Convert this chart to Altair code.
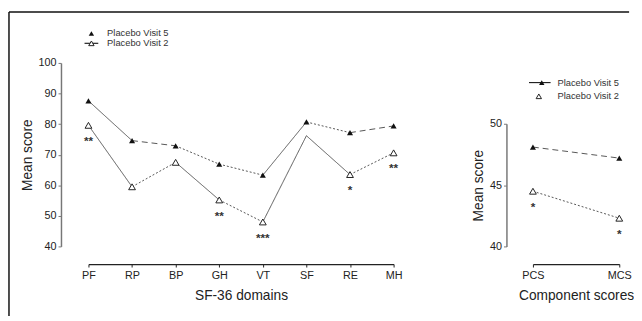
import altair as alt
import pandas as pd

# ---------------- data ----------------
domains = ["PF", "RP", "BP", "GH", "VT", "SF", "RE", "MH"]
visit5 = [87.6, 74.6, 72.9, 66.9, 63.3, 80.7, 77.2, 79.4]
visit2 = [79.6, 59.5, 67.5, 55.2, 48.0, 76.2, 63.5, 70.6]
visit2_marker = [True, True, True, True, True, False, True, True]
visit5_styles = ["solid", "dash", "dot", "dot", "solid", "dot", "dash"]
visit2_styles = ["solid", "dot", "solid", "dot", "solid", "solid", "dot"]
visit2_stars = ["**", "", "", "**", "***", "", "*", "**"]

components = ["PCS", "MCS"]
comp5 = [48.1, 47.2]
comp2 = [44.5, 42.3]
comp5_styles = ["dash"]
comp2_styles = ["dot"]
comp2_stars = ["*", "*"]

legend_labels = ["Placebo Visit 5", "Placebo Visit 2"]

FONT = "Liberation Sans"
LINE = "#555555"
TXT = "#222222"


def segments(cats, vals, styles):
    rows = []
    for i, st in enumerate(styles):
        rows.append({"x": cats[i], "x2": cats[i + 1], "y": vals[i], "y2": vals[i + 1], "style": st})
    return pd.DataFrame(rows)


dash_scale = alt.Scale(domain=["solid", "dash", "dot"], range=[[1, 0], [6, 4], [2, 2]])


def panel(cats, v5, v2, s5, s2, stars, marker2, ydom, yrange, yvals, yoffset, xtitle):
    xs = alt.X("x:N", scale=alt.Scale(type="point", domain=cats, padding=0), sort=cats,
               axis=alt.Axis(title=xtitle, offset=18, labelAngle=0, tickSize=3,
                             domainColor="#222", domainWidth=1.2, tickColor="#222",
                             labelFont=FONT, labelFontSize=11, labelColor=TXT, labelPadding=3,
                             titleFont=FONT, titleFontSize=14, titleFontWeight="normal",
                             titleColor=TXT, titlePadding=8, grid=False))
    ys = alt.Y("y:Q", scale=alt.Scale(domain=ydom, range=yrange, nice=False, zero=False),
               axis=alt.Axis(title="Mean score", offset=yoffset, values=yvals,
                             tickSize=3, domainColor="#777", domainWidth=1.5, tickColor="#777",
                             labelFont=FONT, labelFontSize=11, labelColor=TXT, labelPadding=2,
                             titleFont=FONT, titleFontSize=14, titleFontWeight="normal",
                             titleColor=TXT, titlePadding=4, grid=False))
    seg = pd.concat([segments(cats, v5, s5), segments(cats, v2, s2)], ignore_index=True)
    lines = alt.Chart(seg).mark_rule(color=LINE, strokeWidth=1).encode(
        x=xs, x2="x2:N", y=ys, y2="y2:Q",
        strokeDash=alt.StrokeDash("style:N", scale=dash_scale, legend=None))
    p5 = pd.DataFrame({"x": cats, "y": v5})
    p2 = pd.DataFrame({"x": cats, "y": v2, "m": marker2, "s": stars})
    pts5 = alt.Chart(p5).mark_point(shape="triangle-up", filled=True, color="#111",
                                     size=38, opacity=1).encode(x=xs, y=ys)
    pts2 = alt.Chart(p2).transform_filter("datum.m").mark_point(
        shape="triangle-up", fill="white", stroke="#222", strokeWidth=1, size=48, opacity=1
    ).encode(x=xs, y=ys)
    st = alt.Chart(p2).transform_filter("datum.s != ''").mark_text(
        font=FONT, fontSize=12, fontWeight="bold", color="#333", dy=16, baseline="middle"
    ).encode(x=xs, y=ys, text="s:N")
    return lines + pts5 + pts2 + st


one = pd.DataFrame({"a": [0]})

left = panel(domains, visit5, visit2, visit5_styles, visit2_styles, visit2_stars, visit2_marker,
             [40, 100], [187, 0], [40, 50, 60, 70, 80, 90, 100], 28, "SF-36 domains")

# left legend
leg_txt = dict(font=FONT, fontSize=9.5, color="#333", align="left", baseline="middle")
lleg = (
    alt.Chart(one).mark_point(shape="triangle-up", filled=True, color="#111", size=30, opacity=1)
    .encode(x=alt.value(3), y=alt.value(-30))
    + alt.Chart(one).mark_text(**leg_txt).encode(x=alt.value(19), y=alt.value(-30), text=alt.value(legend_labels[0]))
    + alt.Chart(one).mark_rule(color="#222", strokeWidth=1.2).encode(x=alt.value(-4), x2=alt.value(10), y=alt.value(-20))
    + alt.Chart(one).mark_point(shape="triangle-up", fill="white", stroke="#222", strokeWidth=1, size=30, opacity=1)
    .encode(x=alt.value(3), y=alt.value(-20))
    + alt.Chart(one).mark_text(**leg_txt).encode(x=alt.value(19), y=alt.value(-20), text=alt.value(legend_labels[1]))
)

frame = (
    alt.Chart(one).mark_rule(color="#111", strokeWidth=1.5).encode(x=alt.value(-81), y=alt.value(-52), y2=alt.value(258))
    + alt.Chart(one).mark_rule(color="#111", strokeWidth=1.5).encode(x=alt.value(-81), x2=alt.value(551), y=alt.value(-52))
)

left_chart = alt.layer(frame, left, lleg).properties(width=311, height=187)

right = panel(components, comp5, comp2, comp5_styles, comp2_styles, comp2_stars, [True, True],
              [40, 50], [187, 62], [40, 45, 50], 27, "Component scores")

rleg = (
    alt.Chart(one).mark_rule(color="#222", strokeWidth=1.2).encode(x=alt.value(-4), x2=alt.value(18), y=alt.value(20))
    + alt.Chart(one).mark_point(shape="triangle-up", filled=True, color="#111", size=30, opacity=1)
    .encode(x=alt.value(9), y=alt.value(20))
    + alt.Chart(one).mark_text(**leg_txt).encode(x=alt.value(25), y=alt.value(20), text=alt.value(legend_labels[0]))
    + alt.Chart(one).mark_point(shape="triangle-up", fill="white", stroke="#222", strokeWidth=1, size=30, opacity=1)
    .encode(x=alt.value(6), y=alt.value(34))
    + alt.Chart(one).mark_text(**leg_txt).encode(x=alt.value(25), y=alt.value(34), text=alt.value(legend_labels[1]))
)

right_chart = alt.layer(right, rleg).properties(width=88, height=187)

chart = alt.hconcat(left_chart, right_chart, spacing=142, bounds="flush", padding=0).configure(
    background="white", view=alt.ViewConfig(stroke=None)
)

chart.save("out.html", embed_options={"renderer": "svg", "actions": False})
